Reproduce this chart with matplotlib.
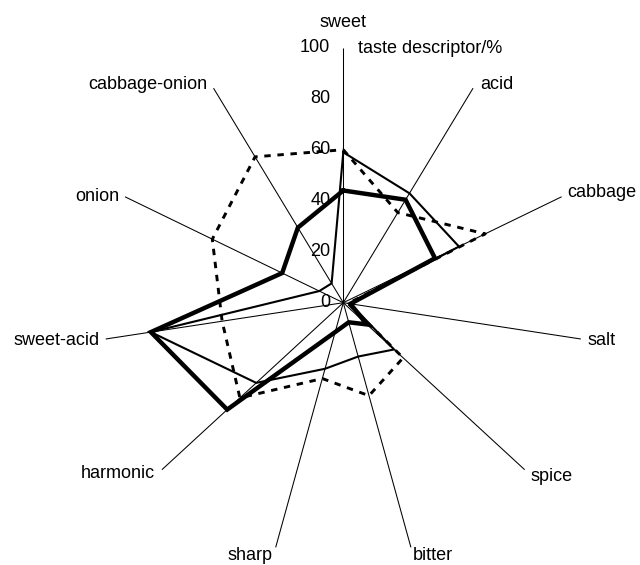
import numpy as np
import matplotlib
matplotlib.use("Agg")
import matplotlib.pyplot as plt

plt.rcParams['font.family'] = ['Liberation Sans', 'DejaVu Sans']

# Taste descriptors (clockwise from the top)
descriptors = ["sweet", "acid", "cabbage", "salt", "spice", "bitter",
               "sharp", "harmonic", "sweet-acid", "onion", "cabbage-onion"]

# Scores in % for the three samples
sample_thin = [59, 51, 53, 3, 28, 22, 27, 48, 81, 11, 9]
sample_thick = [44, 48, 42, 3, 13, 8, 12, 64, 81, 28, 35]
sample_dashed = [60, 42, 65, 2, 33, 38, 31, 57, 51, 60, 68]

scale_ticks = [0, 20, 40, 60, 80, 100]
scale_title = "taste descriptor/%"
r_max = 100

n = len(descriptors)
theta = np.deg2rad(np.arange(n) * 360.0 / n)


def to_xy(values):
    v = np.asarray(values, dtype=float)
    x = v * np.sin(theta)
    y = v * np.cos(theta)
    return np.append(x, x[0]), np.append(y, y[0])


fig = plt.figure(figsize=(6.4, 5.65), dpi=100)
ax = fig.add_axes([0, 0, 1, 1])
ax.set_xlim(-143.04, 123.63)
ax.set_ylim(-102.86, 118.71)
ax.axis("off")

# spokes
for t in theta:
    ax.plot([0, r_max * np.sin(t)], [0, r_max * np.cos(t)],
            color="black", lw=0.75, solid_capstyle="butt", zorder=1)

# value scale along the "sweet" spoke
for v in scale_ticks:
    ax.annotate(str(v), (0, v), xytext=(-13, 0), textcoords="offset pixels",
                ha="right", va="center", fontsize=13, zorder=5)
ax.annotate(scale_title, (0, r_max), xytext=(15, -1), textcoords="offset pixels",
            ha="left", va="center", fontsize=13)

# descriptor labels: offsets (px) and alignment beside each spoke end
label_layout = {
    "sweet": ((0, 25), "center"),
    "acid": ((7, 4), "left"),
    "cabbage": ((6, 4), "left"),
    "salt": ((7, -2), "left"),
    "spice": ((6, -7), "left"),
    "bitter": ((2, -8), "left"),
    "sharp": ((-3, -8), "right"),
    "harmonic": ((-7, -4), "right"),
    "sweet-acid": ((-6, -2), "right"),
    "onion": ((-6, 0), "right"),
    "cabbage-onion": ((-6, 4), "right"),
}
for name, t in zip(descriptors, theta):
    off, ha = label_layout[name]
    ax.annotate(name, (r_max * np.sin(t), r_max * np.cos(t)), xytext=off,
                textcoords="offset pixels", ha=ha, va="center", fontsize=13)

# samples
x, y = to_xy(sample_dashed)
ax.plot(x, y, color="black", lw=2.1, linestyle=(0, (2.2, 2.3)), zorder=2)
x, y = to_xy(sample_thin)
ax.plot(x, y, color="black", lw=1.5, solid_joinstyle="miter", zorder=3)
x, y = to_xy(sample_thick)
ax.plot(x, y, color="black", lw=3.2, solid_joinstyle="miter", zorder=4)

fig.savefig("out.png", dpi=100)
